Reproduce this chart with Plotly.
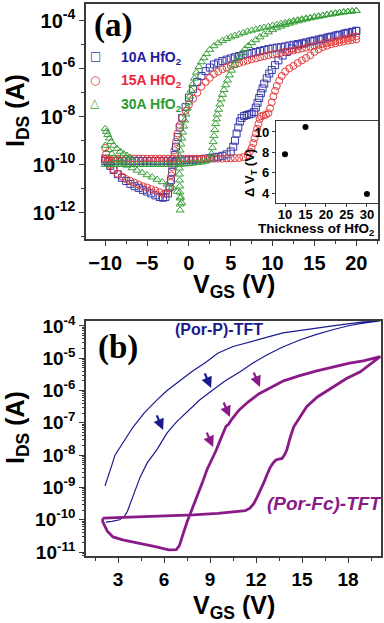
import plotly.graph_objects as go

W, H = 384, 623
FONT = "Liberation Sans, Arial, sans-serif"
SERIF = "Liberation Serif, Times New Roman, serif"

# ---------------- Panel (a): V_GS (V), log10(I_DS / A) ----------------
b10_fwd = [(-10,-9.85),(-9.5,-9.85),(-9,-9.85),(-8.5,-9.85),(-8,-9.85),(-7.5,-9.85),(-7,-9.85),(-6.5,-9.85),
           (-6,-9.85),(-5.5,-9.85),(-5,-9.85),(-4.5,-9.85),(-4,-9.85),(-3.5,-9.85),(-3,-9.85),(-2.5,-9.85),
           (-2,-9.85),(-1.5,-9.84),(-1,-9.83),(-0.5,-9.82),(0,-9.8),(0.5,-9.8),(1,-9.78),(1.5,-9.77),(2,-9.75),
           (2.5,-9.73),(3,-9.7),(3.5,-9.67),(4,-9.63),(4.5,-9.57),(5,-9.45),(5.3,-9.25),(5.5,-9.0),(5.7,-8.7),
           (5.9,-8.45),(6.1,-8.2),(6.3,-8.05),(6.6,-7.97),(6.9,-7.93),(7.2,-7.9),(7.5,-7.87),(7.8,-7.8),(8.0,-7.62),
           (8.2,-7.42),(8.4,-7.22),(8.6,-7.02),(8.8,-6.82),(9.0,-6.62),(9.3,-6.4),(9.6,-6.2),(9.9,-6.05),
           (10.3,-5.85),(10.7,-5.65),(11.2,-5.45),(11.7,-5.3),(12.3,-5.15),(13,-5.03),(13.8,-4.95),(14.8,-4.85),
           (15.8,-4.77),(16.8,-4.68),(17.8,-4.6),(18.8,-4.52),(19.5,-4.47),(20,-4.42)]
b10_rev = [(20,-4.42),(19.5,-4.46),(19,-4.5),(18.5,-4.54),(18,-4.58),(17.5,-4.62),(17,-4.66),(16.5,-4.7),
           (16,-4.74),(15.5,-4.78),(15,-4.82),(14.5,-4.86),(14,-4.9),(13.5,-4.94),(13,-4.97),(12.5,-5.0),
           (12,-5.03),(11.5,-5.07),(11,-5.1),(10.5,-5.12),(10,-5.15),(9.5,-5.18),(9,-5.22),(8.5,-5.26),(8,-5.3),
           (7.5,-5.34),(7,-5.38),(6.5,-5.42),(6,-5.47),(5.5,-5.52),(5,-5.57),(4.5,-5.62),(4,-5.68),(3.5,-5.75),
           (3,-5.82),(2.5,-5.95),(2,-6.1),(1.5,-6.3),(1,-6.55),(0.5,-6.85),(0,-7.2),(-0.4,-7.6),(-0.8,-8.05),
           (-1.1,-8.45),(-1.35,-8.85),(-1.55,-9.25),(-1.7,-9.6),(-1.85,-9.95),(-2.0,-10.3),(-2.15,-10.65),
           (-2.3,-10.95),(-2.5,-11.2),(-2.8,-11.35),(-3.1,-11.38),(-3.5,-11.35),(-4.0,-11.28),(-4.5,-11.2),
           (-5.0,-11.12),(-5.5,-11.05),(-6.0,-10.97),(-6.5,-10.9),(-7.0,-10.8),(-7.5,-10.68),(-8.0,-10.55),
           (-8.5,-10.4),(-9.0,-10.22),(-9.4,-10.05),(-9.7,-9.9),(-10,-9.75)]

r15_fwd = [(-10,-9.75),(-9.5,-9.75),(-9,-9.75),(-8.5,-9.75),(-8,-9.75),(-7.5,-9.75),(-7,-9.75),(-6.5,-9.75),
           (-6,-9.75),(-5.5,-9.75),(-5,-9.75),(-4.5,-9.75),(-4,-9.75),(-3.5,-9.75),(-3,-9.75),(-2.5,-9.75),
           (-2,-9.75),(-1.5,-9.75),(-1,-9.75),(-0.5,-9.75),(0,-9.75),(0.5,-9.75),(1,-9.75),(1.5,-9.75),
           (2,-9.75),(2.5,-9.75),(3,-9.75),(3.5,-9.75),(4,-9.75),(4.5,-9.74),(5,-9.74),(5.5,-9.73),(6,-9.72),
           (6.5,-9.68),(7.0,-9.6),(7.3,-9.45),(7.5,-9.3),(7.7,-9.1),(7.85,-8.9),(8.0,-8.7),(8.15,-8.5),
           (8.3,-8.3),(8.45,-8.1),(8.6,-7.98),(8.9,-7.95),(9.2,-7.92),(9.5,-7.85),(9.7,-7.65),(9.9,-7.4),
           (10.1,-7.15),(10.3,-6.92),(10.5,-6.72),(10.8,-6.5),(11.1,-6.3),(11.5,-6.12),(12.0,-5.98),(12.5,-5.88),
           (13.0,-5.76),(13.5,-5.65),(14.0,-5.55),(14.5,-5.44),(15.0,-5.3),(15.5,-5.19),(16.0,-5.1),(16.5,-5.04),
           (17.0,-4.98),(17.5,-4.94),(18.0,-4.9),(18.5,-4.86),(19.0,-4.83),(19.5,-4.8),(20,-4.78)]
r15_rev = [(20,-4.65),(19.5,-4.68),(19,-4.72),(18.5,-4.76),(18,-4.8),(17.5,-4.84),(17,-4.88),(16.5,-4.92),
           (16,-4.96),(15.5,-5.0),(15,-5.04),(14.5,-5.08),(14,-5.12),(13.5,-5.16),(13,-5.2),(12.5,-5.24),
           (12,-5.27),(11.5,-5.3),(11,-5.33),(10.5,-5.37),(10,-5.4),(9.5,-5.44),(9,-5.48),(8.5,-5.52),(8,-5.57),
           (7.5,-5.61),(7,-5.66),(6.5,-5.71),(6,-5.76),(5.5,-5.82),(5,-5.88),(4.5,-5.95),(4,-6.02),(3.5,-6.12),
           (3,-6.22),(2.5,-6.38),(2,-6.55),(1.5,-6.75),(1,-7.0),(0.5,-7.25),(0,-7.5),(-0.4,-7.75),(-0.8,-8.05),
           (-1.1,-8.35),(-1.35,-8.7),(-1.55,-9.05),(-1.75,-9.4),(-1.9,-9.75),(-2.0,-10.1),(-2.1,-10.45),
           (-2.2,-10.75),(-2.4,-11.0),(-2.7,-11.18),(-3.0,-11.22),(-3.5,-11.15),(-4.0,-11.08),(-4.5,-11.02),
           (-5.0,-10.95),(-5.5,-10.9),(-6.0,-10.83),(-6.5,-10.75),(-7.0,-10.68),(-7.5,-10.6),(-8.0,-10.5),
           (-8.5,-10.38),(-9.0,-10.2),(-9.4,-10.02),(-9.7,-9.8),(-9.9,-9.55),(-10,-9.3)]

g30_start = [(-10,-8.5),(-9.85,-8.62),(-9.7,-8.75),(-9.5,-8.9),(-9.3,-9.05),(-9.0,-9.2),(-8.6,-9.33),
             (-8.2,-9.45),(-7.8,-9.55),(-7.4,-9.62),(-7.0,-9.7)]
g30_fwd = [(-10,-10.0),(-9.5,-10.0),(-9,-10.0),(-8.5,-10.0),(-8,-10.0),(-7.5,-10.0),(-7,-10.0),(-6.5,-10.0),
           (-6,-10.0),(-5.5,-10.0),(-5,-10.0),(-4.5,-10.0),(-4,-10.0),(-3.5,-10.0),(-3,-10.0),(-2.5,-10.0),
           (-2,-10.0),(-1.5,-10.0),(-1,-10.0),(-0.5,-9.98),(0,-9.96),(0.5,-9.94),(1,-9.92),(1.5,-9.9),(2,-9.86),
           (2.5,-9.78),(2.7,-9.55),(2.8,-9.3),(2.9,-9.05),(3.0,-8.8),(3.1,-8.55),(3.2,-8.3),(3.3,-8.1),
           (3.4,-7.9),(3.55,-7.7),(3.7,-7.48),(3.85,-7.27),(4.0,-7.08),(4.2,-6.88),(4.4,-6.68),(4.6,-6.48),
           (4.85,-6.27),(5.1,-6.07),(5.4,-5.85),(5.7,-5.66),(6.0,-5.5),(6.35,-5.34),(6.7,-5.18),(7.1,-5.04),
           (7.5,-4.92),(8.0,-4.8),(8.5,-4.68),(9.0,-4.57),(9.5,-4.47),(10,-4.38),(10.5,-4.3),(11,-4.23),
           (11.5,-4.17),(12,-4.11),(12.5,-4.06),(13,-4.01),(13.5,-3.97),(14,-3.93),(14.5,-3.89),(15,-3.85),
           (15.5,-3.82),(16,-3.78),(16.5,-3.75),(17,-3.72),(17.5,-3.69),(18,-3.66),(18.5,-3.64),(19,-3.62),
           (19.5,-3.6),(20,-3.58)]
g30_rev = [(20,-3.58),(19.5,-3.6),(19,-3.62),(18.5,-3.64),(18,-3.67),(17.5,-3.69),(17,-3.72),(16.5,-3.75),
           (16,-3.78),(15.5,-3.81),(15,-3.84),(14.5,-3.87),(14,-3.9),(13.5,-3.93),(13,-3.97),(12.5,-4.0),
           (12,-4.04),(11.5,-4.08),(11,-4.12),(10.5,-4.16),(10,-4.2),(9.5,-4.24),(9,-4.28),(8.5,-4.32),(8,-4.36),
           (7.5,-4.4),(7,-4.44),(6.5,-4.5),(6,-4.56),(5.5,-4.62),(5,-4.68),(4.5,-4.75),(4,-4.83),(3.5,-4.93),
           (3,-5.05),(2.5,-5.2),(2.1,-5.38),(1.8,-5.55),(1.5,-5.72),(1.2,-5.92),(0.9,-6.15),(0.65,-6.4),
           (0.45,-6.65),(0.25,-6.9),(0.1,-7.15),(-0.05,-7.4),(-0.2,-7.65),(-0.35,-7.9),(-0.5,-8.15),
           (-0.62,-8.4),(-0.75,-8.65),(-0.85,-8.9),(-0.95,-9.15),(-1.05,-9.4),(-1.1,-9.65),(-1.15,-9.9),
           (-1.15,-10.15),(-1.15,-10.4),(-1.12,-10.65),(-1.1,-10.9),(-1.08,-11.15),(-1.05,-11.4),(-1.05,-11.65),
           (-1.05,-11.9),(-0.85,-11.6),(-1.0,-11.35),(-1.4,-11.12),(-2.0,-10.95),(-2.6,-10.82),(-3.2,-10.72),
           (-3.8,-10.62),(-4.4,-10.52),(-5.0,-10.43),(-5.6,-10.33),(-6.2,-10.24),(-6.8,-10.14),(-7.4,-10.03),
           (-8.0,-9.9),(-8.6,-9.75),(-9.2,-9.55),(-9.6,-9.38),(-10,-9.2)]

series_names = ["10A HfO<sub>2</sub>", "15A HfO<sub>2</sub>", "30A HfO<sub>2</sub>"]
series_colors = ["#3838a8", "#e23c3c", "#38a038"]
legend_text_colors = ["#1c1c9c", "#e8283a", "#2a9a30"]

# inset: thickness of HfO2 (A) vs delta V_T (V)
inset_thickness = [10, 15, 30]
inset_dvt = [7.8, 10.5, 3.9]

# ---------------- Panel (b) ----------------
porp_loop = [(2.2,-10.07),(2.6,-10.05),(3.1,-10.0),(3.4,-9.9),(3.6,-9.75),(3.9,-9.39),(4.24,-8.98),
             (4.44,-8.68),(4.9,-8.24),(5.3,-8.0),(5.55,-7.82),(5.85,-7.58),(6.2,-7.31),(6.8,-6.98),(7.5,-6.66),
             (8.3,-6.3),(9.2,-5.98),(10.0,-5.7),(10.96,-5.42),(11.8,-5.15),(12.7,-4.9),(13.7,-4.66),(14.9,-4.43),
             (15.9,-4.27),(17.0,-4.12),(18.1,-3.99),(19.1,-3.91),(20.1,-3.85),
             (19.0,-3.88),(18.0,-3.93),(17.0,-4.0),(15.5,-4.1),(13.76,-4.22),(12.2,-4.42),(10.5,-4.64),
             (9.5,-4.85),(8.8,-5.1),(7.8,-5.42),(6.85,-5.76),(6.2,-6.0),(5.54,-6.29),(4.7,-6.7),(3.98,-7.13),
             (3.4,-7.55),(2.8,-8.0),(2.6,-8.3),(2.4,-8.6),(2.15,-8.95)]
porfc_loop = [(2.0,-9.95),(4.0,-9.92),(6.0,-9.9),(7.9,-9.85),(9.5,-9.8),(10.9,-9.75),(11.3,-9.72),(11.6,-9.64),
              (11.85,-9.5),(12.07,-9.3),(12.3,-9.08),(12.5,-8.86),(12.7,-8.62),(12.9,-8.4),(13.1,-8.25),
              (13.3,-8.15),(13.5,-8.12),(13.7,-8.1),(13.85,-8.0),(14.0,-7.85),(14.2,-7.5),(14.45,-7.13),
              (14.9,-6.8),(15.3,-6.5),(16.0,-6.2),(17.0,-5.9),(17.9,-5.63),(18.8,-5.42),(19.5,-5.18),(20.1,-4.95),
              (19.0,-5.08),(18.1,-5.15),(17.0,-5.28),(15.9,-5.4),(14.8,-5.55),(13.8,-5.7),(13.0,-5.9),(12.2,-6.1),
              (11.5,-6.35),(10.9,-6.6),(10.4,-6.9),(10.2,-7.05),(10.05,-7.1),(9.9,-7.25),(9.65,-7.55),(9.4,-7.85),
              (9.2,-8.05),(9.0,-8.3),(8.8,-8.45),(8.5,-8.85),(8.2,-9.2),(7.85,-9.65),(7.5,-10.07),(7.2,-10.5),
              (7.0,-10.8),(6.8,-10.92),(6.3,-10.93),(5.5,-10.84),(4.0,-10.69),(3.3,-10.62),(2.67,-10.53),
              (2.3,-10.35),(2.1,-10.16),(2.0,-10.05),(2.0,-9.95)]

porp_arrow_tips = [(9.07,-5.92),(5.94,-7.22)]
porfc_arrow_tips = [(12.26,-5.89),(10.3,-6.82),(9.2,-7.75)]

a_yticks = [-4, -6, -8, -10, -12]
b_yticks = [-4, -5, -6, -7, -8, -9, -10, -11]
a_xticks = [-10, -5, 0, 5, 10, 15, 20]
b_xticks = [3, 6, 9, 12, 15, 18]


def px(x):
    return x / W


def py(y):
    return 1 - y / H


def split(pairs):
    return [p[0] for p in pairs], [10 ** p[1] for p in pairs]


fig = go.Figure()

sets = [b10_fwd + b10_rev, r15_fwd + r15_rev, g30_start + g30_fwd + g30_rev]
symbols = ["square-open", "circle-open", "triangle-up-open"]
for pts, sym, col, nm in zip(sets, symbols, series_colors, series_names):
    xs, ys = split(pts)
    fig.add_trace(go.Scatter(x=xs, y=ys, mode="markers", name=nm, showlegend=False,
                             marker=dict(symbol=sym, size=7, color=col, line=dict(width=1, color=col)),
                             xaxis="x", yaxis="y"))

fig.add_trace(go.Scatter(x=inset_thickness, y=inset_dvt, mode="markers", showlegend=False,
                         marker=dict(symbol="circle", size=6, color="black"), xaxis="x3", yaxis="y3"))

xs, ys = split(porp_loop)
fig.add_trace(go.Scatter(x=xs, y=ys, mode="lines", showlegend=False,
                         line=dict(color="#1a1a8e", width=1.2), xaxis="x2", yaxis="y2"))
xs, ys = split(porfc_loop)
fig.add_trace(go.Scatter(x=xs, y=ys, mode="lines", showlegend=False,
                         line=dict(color="#8a1a88", width=2.8), xaxis="x2", yaxis="y2"))

AX = dict(showline=True, mirror=True, linecolor="#3a3a3a", linewidth=1.5, showgrid=False, automargin=False,
          zeroline=False, ticks="outside", tickcolor="#3a3a3a", ticklen=5, tickwidth=1.2)

tf_a = dict(family=FONT, size=20, color="black", weight="bold")
tf_b = dict(family=FONT, size=19, color="black", weight="bold")
tf_i = dict(family=FONT, size=13, color="black", weight="bold")

fig.update_layout(
    width=W, height=H, margin=dict(l=0, r=0, t=0, b=0, autoexpand=False),
    paper_bgcolor="white", plot_bgcolor="rgba(0,0,0,0)", showlegend=False,
    xaxis=dict(AX, domain=[px(86), px(378)], range=[-12.3, 22.6], anchor="y",
               tickvals=a_xticks, tickfont=tf_a,
               minor=dict(tickvals=[-7.5, -2.5, 2.5, 7.5, 12.5, 17.5, 22.5], ticklen=3, ticks="outside",
                          tickcolor="#3a3a3a")),
    yaxis=dict(AX, domain=[py(239), py(4)], type="log", range=[-13.1, -3.3], anchor="x",
               tickvals=[10 ** v for v in a_yticks], ticktext=[f"10<sup>{v}</sup>" for v in a_yticks],
               tickfont=tf_a,
               minor=dict(tickvals=[10 ** v for v in [-5, -7, -9, -11, -13]], ticklen=3, ticks="outside",
                          tickcolor="#3a3a3a")),
    xaxis2=dict(AX, domain=[px(86), px(381)], range=[0.91, 20.15], anchor="y2",
                tickvals=b_xticks, tickfont=tf_b,
                minor=dict(tickvals=[1.5, 4.5, 7.5, 10.5, 13.5, 16.5, 19.5], ticklen=3, ticks="outside",
                           tickcolor="#3a3a3a")),
    yaxis2=dict(AX, domain=[py(556), py(321)], type="log", range=[-11.12, -3.85], anchor="x2",
                tickvals=[10 ** v for v in b_yticks], ticktext=[f"10<sup>{v}</sup>" for v in b_yticks],
                tickfont=tf_b,
                minor=dict(tickvals=[m * 10 ** d for d in range(-12, -3) for m in range(2, 10)],
                           ticklen=2, ticks="outside", tickcolor="#3a3a3a")),
    xaxis3=dict(AX, domain=[px(276), px(378)], range=[7.8, 32.7], anchor="y3",
                tickvals=[10, 15, 20, 25, 30], tickfont=tf_i, ticklen=3, linewidth=1.2,
                ticklabelstandoff=-4),
    yaxis3=dict(AX, domain=[py(203), py(121)], range=[3.02, 11.08], anchor="x3",
                tickvals=[4, 6, 8, 10], tickfont=tf_i, ticklen=3, linewidth=1.2),
)

ann = []


def text(x, y, s, size, color="black", family=FONT, xanchor="center", angle=0):
    ann.append(dict(x=px(x), y=py(y), xref="paper", yref="paper", text=s, showarrow=False,
                    xanchor=xanchor, yanchor="middle", textangle=angle,
                    font=dict(family=family, size=size, color=color)))


text(113, 25, "<b>(a)</b>", 33, family=SERIF)
text(118, 347, "<b>(b)</b>", 33, family=SERIF)

legend_syms = ["\u25a1", "\u25cb", "\u25b3"]
for i, (sym, col, tcol, nm) in enumerate(zip(legend_syms, series_colors, legend_text_colors, series_names)):
    yy = 56 + i * 23.5
    text(95, yy, sym, 12, color=col, family="DejaVu Sans")
    text(119, yy + 2, f"<b>{nm}</b>", 14, color=tcol, xanchor="left")

text(17, 111, "<b>I<sub>DS</sub> (A)</b>", 25, angle=-90)
text(17, 428, "<b>I<sub>DS</sub> (A)</b>", 25, angle=-90)
text(234, 286, "<b>V<sub>GS</sub> (V)</b>", 25)
text(234, 607, "<b>V<sub>GS</sub> (V)</b>", 25)

text(316, 230, "<b>Thickness of HfO<sub>2</sub></b>", 13.5)
text(250, 173, "<b>\u0394 V<sub>T</sub> (V)</b>", 13, angle=-90)

text(219, 330, "<b>(Por-P)-TFT</b>", 16, color="#1a1a8e")
text(324, 503, "<b><i>(Por-Fc)-TFT</i></b>", 19, color="#8a1a88")

for tips, col in [(porp_arrow_tips, "#1a1a8e"), (porfc_arrow_tips, "#8a1a88")]:
    for (vx, ly) in tips:
        ann.append(dict(x=vx, y=ly, xref="x2", yref="y2", text="", showarrow=True,
                        arrowhead=2, arrowsize=1, arrowwidth=2.2, arrowcolor=col,
                        ax=-7, ay=-16))

fig.update_layout(annotations=ann)
fig.write_html("out.html", config={"displayModeBar": False},
               post_script="document.body.style.margin='0';")
